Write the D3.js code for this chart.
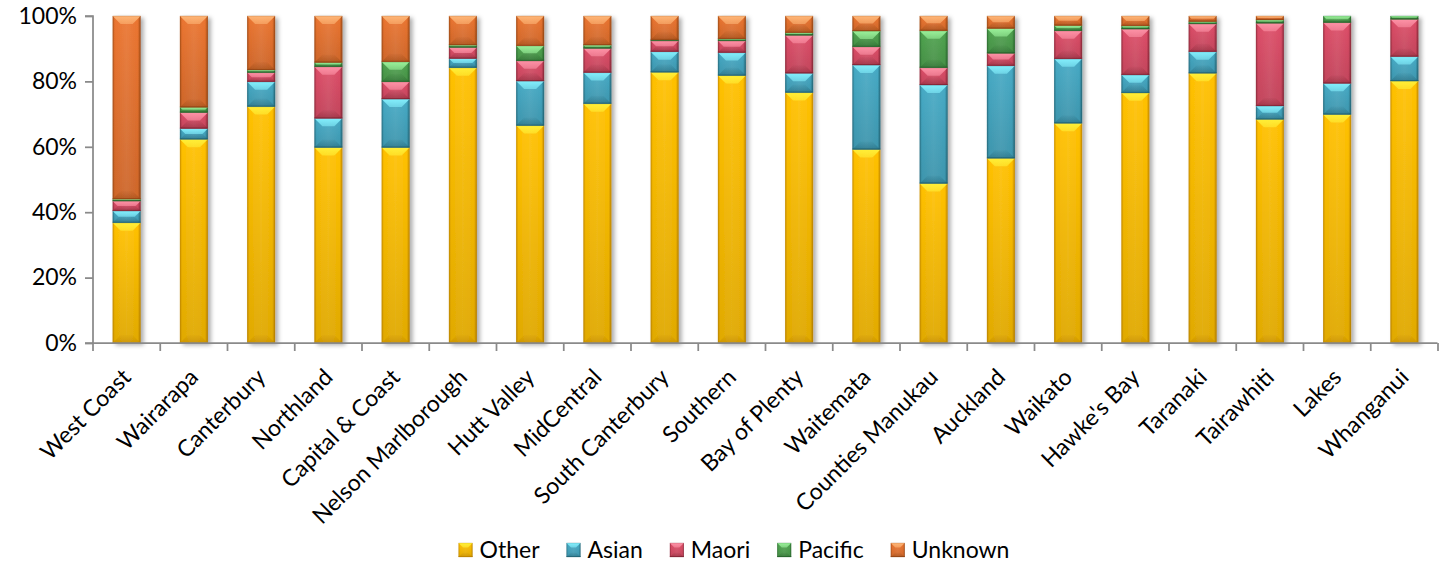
<!DOCTYPE html>
<html>
<head>
<meta charset="utf-8">
<script src="https://cdn.jsdelivr.net/npm/d3@7/dist/d3.min.js"></script>
<style>
  html, body { margin: 0; padding: 0; background: #fff; }
  svg { display: block; }
  text { font-family: Lato, "Open Sans", sans-serif; fill: #000; }
</style>
</head>
<body>
<svg id="chart" width="1442" height="564"></svg>
<script>
// District health board population share by ethnic group (100% stacked)
const categories = ["West Coast", "Wairarapa", "Canterbury", "Northland", "Capital & Coast",
  "Nelson Marlborough", "Hutt Valley", "MidCentral", "South Canterbury", "Southern",
  "Bay of Plenty", "Waitemata", "Counties Manukau", "Auckland", "Waikato",
  "Hawke's Bay", "Taranaki", "Tairawhiti", "Lakes", "Whanganui"];

const seriesNames = ["Other", "Asian", "Maori", "Pacific", "Unknown"];

const other   = [36.8, 62.3, 72.3, 59.8, 59.8, 84.2, 66.5, 73.2, 82.8, 81.8, 76.6, 59.2, 48.8, 56.5, 67.2, 76.5, 82.5, 68.4, 69.9, 80.1];
const asian   = [3.6, 3.3, 7.6, 8.9, 14.8, 2.8, 13.6, 9.5, 6.3, 7.0, 5.9, 25.8, 30.1, 28.3, 19.7, 5.5, 6.6, 4.1, 9.5, 7.5];
const maori   = [3.0, 4.9, 2.8, 15.8, 5.3, 3.4, 6.2, 7.4, 3.3, 3.6, 11.6, 5.6, 5.3, 3.8, 8.6, 14.0, 8.5, 25.3, 18.6, 11.4];
const pacific = [0.6, 1.6, 0.8, 1.3, 6.1, 0.7, 4.6, 1.0, 0.3, 0.6, 0.8, 4.8, 11.3, 7.6, 1.6, 1.0, 0.7, 1.0, 2.0, 1.0];
const unknown = [56.0, 27.9, 16.5, 14.2, 14.0, 8.9, 9.1, 8.9, 7.3, 7.0, 5.1, 4.6, 4.5, 3.8, 2.9, 3.0, 1.7, 1.2, 0.0, 0.0];

const yTicks = [0, 0.2, 0.4, 0.6, 0.8, 1.0];

// base / highlight / shade per series
const palette = {
  Other:   { base: "#FFC000", hi: "#FFF23A", dark: "#B97F00" },
  Asian:   { base: "#45A9C4", hi: "#86F2FF", dark: "#1F5F70" },
  Maori:   { base: "#DC4D67", hi: "#FF96AA", dark: "#7E2433" },
  Pacific: { base: "#4FA34F", hi: "#9EF59E", dark: "#25612A" },
  Unknown: { base: "#EA742F", hi: "#FFB97A", dark: "#8E4312" }
};

const rows = categories.map((c, i) => ({
  name: c, Other: other[i], Asian: asian[i], Maori: maori[i], Pacific: pacific[i], Unknown: unknown[i]
}));

const stack = d3.stack().keys(seriesNames).offset(d3.stackOffsetExpand);
const layers = stack(rows);

const svg = d3.select("#chart");
const W = 1442;
const x0 = 93, x1 = W - 4;
const yBottom = 343, yTop = 16;

const x = d3.scaleBand().domain(categories).range([x0, x1]).paddingInner(0.584).paddingOuter(0.292);
const y = d3.scaleLinear().domain([0, 1]).range([yBottom, yTop]);

// ---------- gradients & filters ----------
const defs = svg.append("defs");
const shadow = defs.append("filter").attr("id", "barShadow")
  .attr("x", "-30%").attr("y", "-5%").attr("width", "170%").attr("height", "115%");
shadow.append("feDropShadow").attr("dx", 3).attr("dy", 2).attr("stdDeviation", 2.2)
  .attr("flood-color", "#000").attr("flood-opacity", 0.32);

seriesNames.forEach(k => {
  const p = palette[k];
  const hg = defs.append("linearGradient").attr("id", "h-" + k).attr("x1", 0).attr("x2", 1).attr("y1", 0).attr("y2", 0);
  hg.append("stop").attr("offset", 0).attr("stop-color", d3.interpolateRgb(p.base, p.dark)(0.55));
  hg.append("stop").attr("offset", 0.08).attr("stop-color", p.base);
  hg.append("stop").attr("offset", 0.5).attr("stop-color", d3.interpolateRgb(p.base, "#fff")(0.08));
  hg.append("stop").attr("offset", 0.9).attr("stop-color", p.base);
  hg.append("stop").attr("offset", 1).attr("stop-color", d3.interpolateRgb(p.base, p.dark)(0.75));

  const tg = defs.append("linearGradient").attr("id", "t-" + k).attr("x1", 0).attr("x2", 0).attr("y1", 0).attr("y2", 1);
  tg.append("stop").attr("offset", 0).attr("stop-color", p.hi).attr("stop-opacity", 0.95);
  tg.append("stop").attr("offset", 1).attr("stop-color", p.hi).attr("stop-opacity", 0.55);

  const bg = defs.append("linearGradient").attr("id", "b-" + k).attr("x1", 0).attr("x2", 0).attr("y1", 0).attr("y2", 1);
  bg.append("stop").attr("offset", 0).attr("stop-color", p.dark).attr("stop-opacity", 0.05);
  bg.append("stop").attr("offset", 1).attr("stop-color", p.dark).attr("stop-opacity", 0.45);
});
const vg = defs.append("linearGradient").attr("id", "vshade").attr("x1", 0).attr("x2", 0).attr("y1", 0).attr("y2", 1);
vg.append("stop").attr("offset", 0).attr("stop-color", "#000").attr("stop-opacity", 0);
vg.append("stop").attr("offset", 1).attr("stop-color", "#000").attr("stop-opacity", 0.12);

// draws one bevelled block
function bevelBlock(g, key, bx, by, bw, bh, depth) {
  if (bh <= 0) return;
  const p = palette[key];
  const d = Math.min(depth, bh / 2, bw / 2);
  g.append("rect").attr("x", bx).attr("y", by).attr("width", bw).attr("height", bh)
    .attr("fill", `url(#h-${key})`);
  g.append("rect").attr("x", bx).attr("y", by).attr("width", bw).attr("height", bh)
    .attr("fill", "url(#vshade)");
  g.append("path")
    .attr("d", `M${bx},${by}L${bx + bw},${by}L${bx + bw - d},${by + d}L${bx + d},${by + d}Z`)
    .attr("fill", `url(#t-${key})`);
  g.append("path")
    .attr("d", `M${bx},${by + bh}L${bx + bw},${by + bh}L${bx + bw - d},${by + bh - d}L${bx + d},${by + bh - d}Z`)
    .attr("fill", `url(#b-${key})`);
  g.append("line").attr("x1", bx).attr("x2", bx + bw).attr("y1", by + bh - 0.5).attr("y2", by + bh - 0.5)
    .attr("stroke", p.dark).attr("stroke-opacity", 0.7).attr("stroke-width", 1);
  g.append("rect").attr("x", bx + 0.5).attr("y", by).attr("width", bw - 1).attr("height", bh)
    .attr("fill", "none").attr("stroke", p.dark).attr("stroke-opacity", 0.25).attr("stroke-width", 1);
}

// ---------- bars ----------
const barsG = svg.append("g");
categories.forEach((c, i) => {
  const g = barsG.append("g").attr("filter", "url(#barShadow)");
  layers.forEach(layer => {
    const seg = layer[i];
    const top = y(seg[1]), bot = y(seg[0]);
    bevelBlock(g, layer.key, x(c), top, x.bandwidth(), bot - top, 8);
  });
});

// ---------- axes ----------
const axisColor = "#8A8A8A";
const yAxis = svg.append("g").attr("transform", `translate(${x0},0)`)
  .call(d3.axisLeft(y).tickValues(yTicks).tickFormat(d3.format(".0%")).tickSize(8).tickPadding(8));
yAxis.select(".domain").attr("stroke", axisColor).attr("stroke-width", 1.75)
  .attr("d", `M-8,${yTop}H0V${yBottom}H-8`);
yAxis.selectAll(".tick line").attr("stroke", axisColor).attr("stroke-width", 1.75);
yAxis.selectAll(".tick text").style("font-size", "23px").attr("fill", "#000").attr("font-family", "Lato");

// category boundaries for x tick marks
const step = x.step();
const xAxis = svg.append("g");
xAxis.append("line").attr("x1", x0).attr("x2", x1 - 0.5).attr("y1", yBottom).attr("y2", yBottom)
  .attr("stroke", axisColor).attr("stroke-width", 1.75);
xAxis.selectAll("line.tk").data(d3.range(categories.length + 1)).join("line").attr("class", "tk")
  .attr("x1", k => x0 + k * step).attr("x2", k => x0 + k * step)
  .attr("y1", yBottom).attr("y2", yBottom + 8)
  .attr("stroke", axisColor).attr("stroke-width", 1.75);
xAxis.selectAll("text").data(categories).join("text")
  .attr("transform", c => `translate(${x(c) + x.bandwidth() / 2},${373}) rotate(-45)`)
  .attr("text-anchor", "end").attr("dy", "0.35em")
  .style("font-size", "23px").text(c => c);

// ---------- legend ----------
const legend = svg.append("g");
const items = legend.selectAll("g").data(seriesNames).join("g");
items.append("text").style("font-size", "23px").attr("y", 550).attr("dy", "0.35em").text(d => d);
const widths = [];
items.select("text").each(function () { widths.push(this.getComputedTextLength()); });
const markerW = 14, gap = 7, spacing = 27;
const total = d3.sum(widths) + seriesNames.length * (markerW + gap) + spacing * (seriesNames.length - 1);
let cursor = 734 - total / 2;
items.each(function (d, i) {
  const g = d3.select(this);
  const mg = g.append("g");
  bevelBlock(mg, d, cursor, 543, markerW, markerW, 4.5);
  g.select("text").attr("x", cursor + markerW + gap);
  cursor += markerW + gap + widths[i] + spacing;
});
</script>
</body>
</html>
